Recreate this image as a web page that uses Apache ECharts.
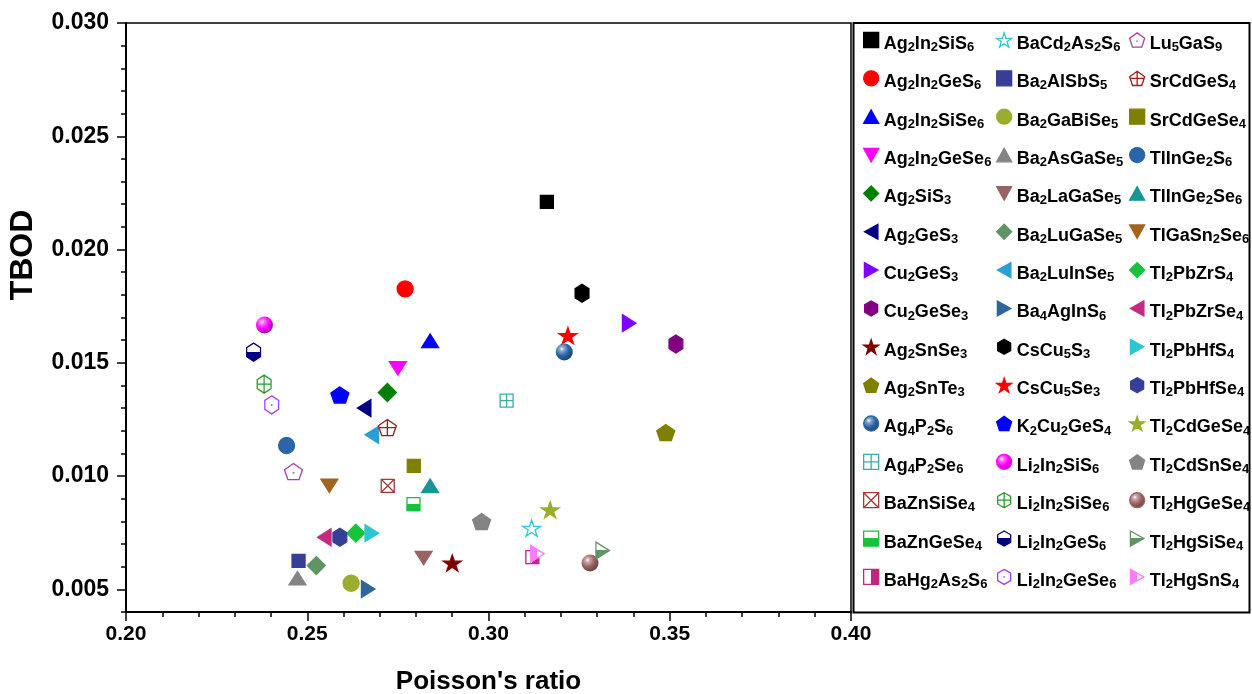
<!DOCTYPE html>
<html>
<head>
<meta charset="utf-8">
<script src="https://cdn.jsdelivr.net/npm/echarts@6/dist/echarts.min.js"></script>
<style>
  html, body { margin: 0; padding: 0; background: #fff; }
  #chart { width: 1252px; height: 694px; }
</style>
</head>
<body>
<div id="chart"></div>
<script>
// Compounds, in legend order (three columns of fifteen)
const compounds = [
  'Ag2In2SiS6', 'Ag2In2GeS6', 'Ag2In2SiSe6', 'Ag2In2GeSe6', 'Ag2SiS3', 'Ag2GeS3', 'Cu2GeS3', 'Cu2GeSe3',
  'Ag2SnSe3', 'Ag2SnTe3', 'Ag4P2S6', 'Ag4P2Se6', 'BaZnSiSe4', 'BaZnGeSe4', 'BaHg2As2S6',
  'BaCd2As2S6', 'Ba2AlSbS5', 'Ba2GaBiSe5', 'Ba2AsGaSe5', 'Ba2LaGaSe5', 'Ba2LuGaSe5', 'Ba2LuInSe5', 'Ba4AgInS6',
  'CsCu5S3', 'CsCu5Se3', 'K2Cu2GeS4', 'Li2In2SiS6', 'Li2In2SiSe6', 'Li2In2GeS6', 'Li2In2GeSe6',
  'Lu5GaS9', 'SrCdGeS4', 'SrCdGeSe4', 'TlInGe2S6', 'TlInGe2Se6', 'TlGaSn2Se6', 'Tl2PbZrS4', 'Tl2PbZrSe4',
  'Tl2PbHfS4', 'Tl2PbHfSe4', 'Tl2CdGeSe4', 'Tl2CdSnSe4', 'Tl2HgGeSe4', 'Tl2HgSiSe4', 'Tl2HgSnS4'
];

// Poisson's ratio of each compound
const poissonRatio = [
  0.3161, 0.2770, 0.2839, 0.2750, 0.2721, 0.2657, 0.3388, 0.3517,
  0.2900, 0.3489, 0.3209, 0.3050, 0.2722, 0.2793, 0.3121,
  0.3119, 0.2476, 0.2621, 0.2473, 0.2821, 0.2525, 0.2678, 0.2668,
  0.3258, 0.3219, 0.2590, 0.2382, 0.2381, 0.2352, 0.2402,
  0.2462, 0.2721, 0.2794, 0.2443, 0.2839, 0.2561, 0.2634, 0.2547,
  0.2678, 0.2590, 0.3170, 0.2981, 0.3280, 0.3315, 0.3135
];

// TBOD of each compound
const tbod = [
  0.02210, 0.01826, 0.01597, 0.01476, 0.01369, 0.01300, 0.01675, 0.01583,
  0.00616, 0.01192, 0.01548, 0.01333, 0.00957, 0.00876, 0.00642,
  0.00770, 0.00626, 0.00527, 0.00549, 0.00638, 0.00605, 0.01182, 0.00501,
  0.01807, 0.01620, 0.01358, 0.01667, 0.01406, 0.01547, 0.01314,
  0.01020, 0.01214, 0.01045, 0.01135, 0.00957, 0.00957, 0.00748, 0.00730,
  0.00748, 0.00730, 0.00851, 0.00799, 0.00616, 0.00671, 0.00657
];

// Axis ticks
const yTicks = [0.005, 0.010, 0.015, 0.020, 0.025, 0.030];
const yMinorTicks = [0.004, 0.006, 0.007, 0.008, 0.009, 0.011, 0.012, 0.013, 0.014, 0.016, 0.017, 0.018, 0.019,
  0.021, 0.022, 0.023, 0.024, 0.026, 0.027, 0.028, 0.029];

// Marker colour per compound
const colors = [
  '#000000', '#ff0000', '#0000ff', '#ff00ff', '#008000', '#000080', '#8000ff', '#800080',
  '#800000', '#808000', '#2a65a8', '#3aabab', '#a33a3a', '#15c23a', '#c3267e',
  '#2cc6d6', '#363f98', '#9aad2c', '#848484', '#9a6262', '#5f9463', '#2aa0d2', '#2f6598',
  '#000000', '#ff0000', '#0000ff', '#ff00ff', '#2a9a2a', '#000080', '#9b3cff',
  '#a2449e', '#9b1d1d', '#808000', '#2a65a8', '#189595', '#a3641c', '#14c43b', '#c42a80',
  '#2cc6d0', '#363f98', '#9aad2c', '#848484', '#9a6262', '#5f9463', '#ff7bff'
];

// Marker kind per compound
const markers = [
  'sq', 'ci', 'up', 'dn', 'di', 'lf', 'rt', 'hx', 'st', 'pe', 'sp', 'sqGrid', 'sqX', 'sqHalfV', 'sqHalfH',
  'stOpen', 'sq', 'ci', 'up', 'dn', 'di', 'lf', 'rt', 'hx', 'st', 'pe', 'sp', 'hxCross', 'hxHalf', 'hxDot',
  'peDot', 'peCross', 'sq', 'ci', 'up', 'dn', 'di', 'lf', 'rt', 'hx', 'st', 'pe', 'sp', 'rtHalfV', 'rtHalfH'
];

const FONT = 'Liberation Sans, Arial, sans-serif';

// Marker outlines
const SQ = 'M0,0L10,0L10,10L0,10Z';
const UP = 'M5,0L10,9L0,9Z';
const DN = 'M0,0L10,0L5,9Z';
const RT = 'M0,0L9,5L0,10Z';
const LF = 'M0,5L9,0L9,10Z';
const DIA = 'M5,0L10,5L5,10L0,5Z';
const HEX = 'M8.66,0L17.32,5L17.32,15L8.66,20L0,15L0,5Z';
const PENT = 'M9.51,0L19.02,6.91L15.39,18.09L3.63,18.09L0,6.91Z';
const STAR = 'M9.51,0L11.76,6.91L19.02,6.91L13.14,11.18L15.39,18.09L9.51,13.82L3.63,18.09L5.88,11.18L0,6.91L7.27,6.91Z';

function split(c, vertical, filledFirst) {
  const a = filledFirst ? c : '#ffffff';
  const b = filledFirst ? '#ffffff' : c;
  return {
    type: 'linear', x: 0, y: 0, x2: vertical ? 0 : 1, y2: vertical ? 1 : 0,
    colorStops: [
      { offset: 0, color: a }, { offset: 0.47, color: a },
      { offset: 0.47, color: b }, { offset: 1, color: b }
    ]
  };
}

function shade(hex, f) {
  const n = parseInt(hex.slice(1), 16);
  const ch = [(n >> 16) & 255, (n >> 8) & 255, n & 255].map(v =>
    Math.round(f >= 0 ? v + (255 - v) * f : v * (1 + f)));
  return 'rgb(' + ch.join(',') + ')';
}

function sphere(c) {
  return {
    type: 'radial', x: 0.36, y: 0.32, r: 0.72,
    colorStops: [
      { offset: 0, color: '#ffffff' },
      { offset: 0.18, color: shade(c, 0.45) },
      { offset: 0.55, color: c },
      { offset: 1, color: shade(c, -0.35) }
    ]
  };
}

function markerStyle(kind, c) {
  const open = '#ffffff';
  switch (kind) {
    case 'sq': return { symbol: 'rect', size: 13, fill: c };
    case 'ci': return { symbol: 'circle', size: 16, fill: c };
    case 'up': return { symbol: 'path://' + UP, size: [17, 15], fill: c };
    case 'dn': return { symbol: 'path://' + DN, size: [17, 15], fill: c };
    case 'di': return { symbol: 'path://' + DIA, size: 18, fill: c };
    case 'lf': return { symbol: 'path://' + LF, size: [15, 17], fill: c };
    case 'rt': return { symbol: 'path://' + RT, size: [15, 17], fill: c };
    case 'hx': return { symbol: 'path://' + HEX, size: [16, 18], fill: c };
    case 'pe': return { symbol: 'path://' + PENT, size: [18, 17], fill: c };
    case 'st': return { symbol: 'path://' + STAR, size: [18, 17], fill: c };
    case 'sp': return { symbol: 'circle', size: 17, fill: sphere(c), border: 0 };
    case 'sqGrid': return { symbol: 'path://' + SQ + 'M5,0L5,10M0,5L10,5', size: 13, fill: open };
    case 'sqX': return { symbol: 'path://' + SQ + 'M0,0L10,10M10,0L0,10', size: 13, fill: open };
    case 'sqHalfV': return { symbol: 'rect', size: 13, fill: split(c, true, false) };
    case 'sqHalfH': return { symbol: 'rect', size: 13, fill: split(c, false, false) };
    case 'stOpen': return { symbol: 'path://' + STAR, size: [18, 17], fill: open };
    case 'hxCross': return { symbol: 'path://' + HEX + 'M8.66,0L8.66,20M0,10L17.32,10', size: [16, 18], fill: open };
    case 'hxHalf': return { symbol: 'path://' + HEX, size: [16, 18], fill: split(c, true, false) };
    case 'hxDot': return { symbol: 'path://' + HEX + 'M7.6,10L9.7,10', size: [16, 18], fill: open };
    case 'peDot': return { symbol: 'path://' + PENT + 'M8.5,10.5L10.5,10.5', size: [18, 17], fill: open };
    case 'peCross': return { symbol: 'path://' + PENT + 'M9.51,0L9.51,18.09M0.68,9L18.34,9', size: [18, 17], fill: open };
    case 'rtHalfV': return { symbol: 'path://' + RT, size: [15, 17], fill: split(c, true, false) };
    case 'rtHalfH': return { symbol: 'path://' + RT, size: [15, 17], fill: split(c, false, true) };
  }
}

const series = compounds.map((name, i) => {
  const m = markerStyle(markers[i], colors[i]);
  return {
    type: 'scatter',
    name: name,
    data: [[poissonRatio[i], tbod[i]]],
    symbol: m.symbol,
    symbolSize: m.size,
    symbolKeepAspect: true,
    itemStyle: {
      color: m.fill,
      borderColor: colors[i],
      borderWidth: m.border === 0 ? 0 : 1.3,
      opacity: 1
    },
    emphasis: { disabled: true }
  };
});

// Chemical formula with subscript digits
function formula(name) {
  return name.replace(/(\d+)/g, '{s|$1}');
}

const legendColumns = [[0, 15], [15, 30], [30, 45]];
const legendLeft = [863, 996, 1129];

const legends = legendColumns.map((r, k) => ({
  data: compounds.slice(r[0], r[1]),
  orient: 'vertical',
  left: legendLeft[k],
  top: 26,
  padding: 0,
  itemWidth: 15,
  itemHeight: 15,
  itemGap: 10.35,
  selectedMode: false,
  formatter: formula,
  itemStyle: { borderWidth: 1.3 },
  textStyle: {
    fontFamily: FONT,
    fontSize: 18,
    fontWeight: 'bold',
    color: '#000',
    lineHeight: 20,
    padding: [8, 0, 0, 0],
    rich: {
      s: { fontFamily: FONT, fontSize: 13, fontWeight: 'bold', color: '#000', lineHeight: 10, verticalAlign: 'bottom' }
    }
  }
}));

const chart = echarts.init(document.getElementById('chart'), null, { renderer: 'canvas' });

chart.setOption({
  animation: false,
  backgroundColor: '#ffffff',
  grid: {
    left: 126, right: 401, top: 23, bottom: 82,
    outerBoundsMode: 'none',
    containLabel: false,
    show: true, borderColor: '#000', borderWidth: 1.5, backgroundColor: 'transparent'
  },
  xAxis: {
    type: 'value',
    min: 0.20, max: 0.40, interval: 0.05,
    name: "Poisson's ratio",
    nameLocation: 'middle',
    nameGap: 57,
    nameTextStyle: { fontFamily: FONT, fontSize: 26, fontWeight: 'bold', color: '#000' },
    axisLine: { show: true, onZero: false, lineStyle: { color: '#000', width: 2 } },
    axisTick: { show: true, inside: false, length: 9, lineStyle: { color: '#000', width: 1.5 } },
    minorTick: { show: true, splitNumber: 5, length: 5, lineStyle: { color: '#000', width: 1.5 } },
    splitLine: { show: false },
    minorSplitLine: { show: false },
    axisLabel: {
      margin: 12,
      fontFamily: FONT, fontSize: 21, fontWeight: 'bold', color: '#000',
      formatter: v => v.toFixed(2)
    }
  },
  yAxis: [
    {
      type: 'value',
      min: 0.004, max: 0.030,
      position: 'left',
      axisLine: { show: true, onZero: false, lineStyle: { color: '#000', width: 2 } },
      axisTick: { show: true, inside: false, length: 9, customValues: yTicks, lineStyle: { color: '#000', width: 1.5 } },
      splitLine: { show: false },
      axisLabel: {
        margin: 17,
        customValues: yTicks,
        fontFamily: FONT, fontSize: 23, fontWeight: 'bold', color: '#000',
        formatter: v => v.toFixed(3)
      }
    },
    {
      type: 'value',
      min: 0.004, max: 0.030,
      position: 'left',
      axisLine: { show: false },
      axisTick: { show: true, inside: false, length: 5, customValues: yMinorTicks, lineStyle: { color: '#000', width: 1.5 } },
      splitLine: { show: false },
      axisLabel: { show: false }
    }
  ],
  legend: legends,
  graphic: [
    {
      type: 'rect',
      shape: { x: 853.5, y: 23, width: 396, height: 589.5 },
      style: { fill: null, stroke: '#000', lineWidth: 2 },
      silent: true
    },
    {
      type: 'text',
      x: 23, y: 255,
      rotation: Math.PI / 2,
      style: {
        text: 'TBOD',
        fontFamily: FONT, fontSize: 32, fontWeight: 'bold', fill: '#000',
        align: 'center', verticalAlign: 'middle'
      },
      silent: true
    }
  ],
  series: series
});
</script>
</body>
</html>
